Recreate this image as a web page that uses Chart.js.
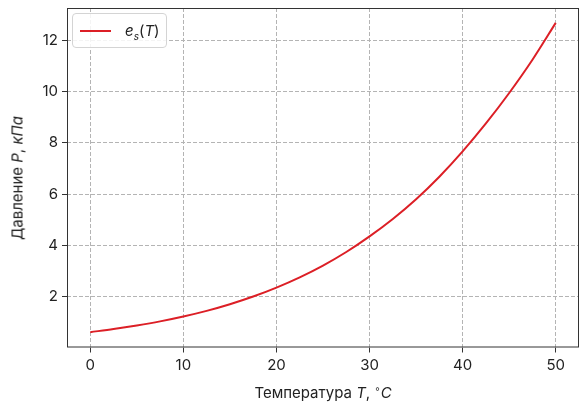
<!DOCTYPE html>
<html lang="ru">
<head>
<meta charset="utf-8">
<title>Давление насыщенного пара</title>
<script src="https://cdn.jsdelivr.net/npm/chart.js@4.4.1/dist/chart.umd.min.js"></script>
<style>
    html, body { margin: 0; padding: 0; background: #fff; }
    #marco { position: relative; width: 586px; height: 403px; font-family: Inter, "DejaVu Sans", sans-serif; color: #222; }
    #grafica { position: absolute; left: 0; top: 0; }
    .titulo { position: absolute; font-size: 15px; white-space: nowrap; }
    .titulo sup { font-size: 10px; vertical-align: 6px; }
    #tituloX { left: 323px; top: 392px; transform: translate(-50%, -50%); }
    #tituloY { left: 17px; top: 178px; transform: translate(-50%, -50%) rotate(-90deg); }
    #leyenda { position: absolute; left: 72px; top: 13px; width: 93px; height: 33px; border: 1px solid #d4d4d4; border-radius: 4px; background: rgba(255,255,255,0.85); }
    #leyenda .linea { position: absolute; left: 7px; top: 16px; width: 31px; height: 2px; background: #dc1f26; }
    #leyenda .texto { position: absolute; left: 52px; top: 7px; font-size: 15px; }
    #leyenda sub { font-size: 10px; }
</style>
</head>
<body>
<div id="marco">
    <canvas id="grafica" width="586" height="403"></canvas>
    <div id="leyenda"><div class="linea"></div><div class="texto"><i>e</i><sub><i>s</i></sub>(<i>T</i>)</div></div>
    <div class="titulo" id="tituloX">Температура <i>T</i>, <sup>∘</sup><i>C</i></div>
    <div class="titulo" id="tituloY">Давление <i>P</i>, <i>кПа</i></div>
</div>
<script>
// Данные
const temperaturas = [0, 2.5, 5, 7.5, 10, 12.5, 15, 17.5, 20, 22.5, 25, 27.5, 30, 32.5, 35, 37.5, 40, 42.5, 45, 47.5, 50];
const presiones = [0.61, 0.73, 0.87, 1.03, 1.22, 1.44, 1.70, 2.00, 2.35, 2.75, 3.21, 3.74, 4.35, 5.03, 5.80, 6.68, 7.67, 8.76, 9.95, 11.25, 12.69];
const ticksX = [0, 10, 20, 30, 40, 50];
const ticksY = [2, 4, 6, 8, 10, 12];

// Рамка вокруг области графика
const marcoPlugin = {
    id: "marcoPlugin",
    afterDraw(chart) {
        const { ctx, chartArea } = chart;
        ctx.save();
        ctx.strokeStyle = "#333";
        ctx.lineWidth = 1;
        ctx.strokeRect(chartArea.left + 0.5, chartArea.top + 0.5,
            chartArea.right - chartArea.left - 1, chartArea.bottom - chartArea.top - 1);
        ctx.restore();
    }
};

const rejilla = {
    color: "#b4b4b4",
    lineWidth: 1,
    drawTicks: true,
    tickLength: 5,
    tickColor: "#333",
    tickWidth: 1,
    tickBorderDash: []
};

const fuente = { family: "Inter, 'DejaVu Sans', sans-serif", size: 15 };

new Chart(document.getElementById("grafica"), {
    type: "line",
    data: {
        datasets: [
            {
                label: "e_s(T)",
                data: temperaturas.map((t, i) => ({ x: t, y: presiones[i] })),
                borderColor: "#dc1f26",
                borderWidth: 2,
                pointRadius: 0,
                cubicInterpolationMode: "monotone",
                fill: false
            }
        ]
    },
    options: {
        responsive: false,
        animation: false,
        layout: { padding: { left: 0, right: 7, top: 8, bottom: 0 } },
        plugins: {
            legend: { display: false },
            tooltip: { enabled: false }
        },
        scales: {
            x: {
                type: "linear",
                min: -2.5,
                max: 52.5,
                grid: rejilla,
                border: { display: false, dash: [4, 2] },
                afterBuildTicks: s => { s.ticks = ticksX.map(v => ({ value: v })); },
                afterFit: s => { s.height = 55.5; s.paddingLeft = 0; s.paddingRight = 0; },
                ticks: { font: fuente, color: "#222", padding: 4, maxRotation: 0 }
            },
            y: {
                min: 0.01,
                max: 13.27,
                grid: rejilla,
                border: { display: false, dash: [4, 2] },
                afterBuildTicks: s => { s.ticks = ticksY.map(v => ({ value: v })); },
                afterFit: s => { s.width = 67; s.paddingTop = 0; s.paddingBottom = 0; },
                ticks: { font: fuente, color: "#222", padding: 4 }
            }
        }
    },
    plugins: [marcoPlugin]
});
</script>
</body>
</html>
